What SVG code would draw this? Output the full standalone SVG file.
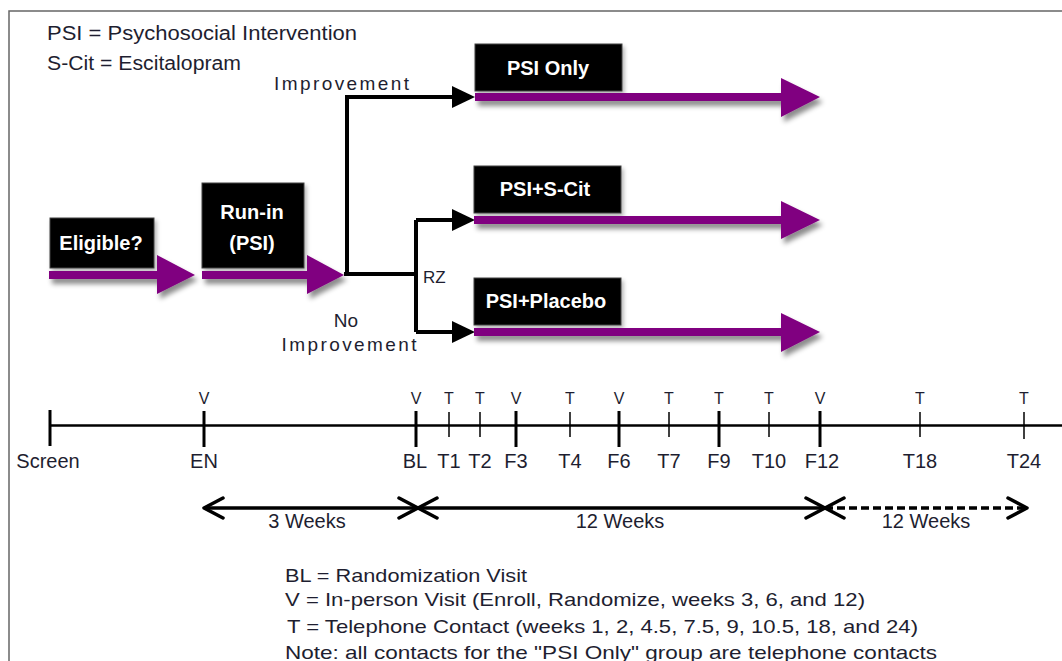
<svg xmlns="http://www.w3.org/2000/svg" width="1062" height="661" viewBox="0 0 1062 661">
<defs>
<filter id="sh" x="-10%" y="-30%" width="130%" height="180%">
<feDropShadow dx="3" dy="5" stdDeviation="2.5" flood-color="#000" flood-opacity="0.45"/>
</filter>
<filter id="shb" x="-10%" y="-20%" width="130%" height="150%">
<feDropShadow dx="2" dy="3" stdDeviation="2" flood-color="#000" flood-opacity="0.3"/>
</filter>
<style>
.t{font-family:"Liberation Sans",Arial,sans-serif;fill:#1e1e30}
.b{font-family:"Liberation Sans",Arial,sans-serif;font-weight:bold;fill:#fff;font-size:20px;text-anchor:middle}
.box{fill:#000;stroke:#444;stroke-width:1}
.pa{fill:#800080}
.k{stroke:#000;stroke-width:4;fill:none}
.ah{fill:#000}
.tl{stroke:#000;fill:none}
.ch{stroke:#000;stroke-width:3.5;fill:none;stroke-linecap:round;stroke-linejoin:round}
.lab{font-size:20px;text-anchor:middle}
.top{font-size:16px;text-anchor:middle}
</style>
</defs>
<rect width="1062" height="661" fill="#fff"/>
<rect x="9" y="11" width="1100" height="700" fill="none" stroke="#666" stroke-width="1.5"/>

<g id="legend">
<text class="t" x="47" y="40" font-size="20" textLength="310" lengthAdjust="spacingAndGlyphs">PSI = Psychosocial Intervention</text>
<text class="t" x="47" y="70" font-size="20" textLength="194" lengthAdjust="spacingAndGlyphs">S-Cit = Escitalopram</text>
</g>

<g id="connectors">
<path class="k" d="M344 274 H416 M347 274 V97 H455 M416 220 V332 M416 220 H455 M416 332 H455"/>
<polygon class="ah" points="452,86 475,97 452,108"/>
<polygon class="ah" points="452,209 475,220 452,231"/>
<polygon class="ah" points="452,321 475,332 452,343"/>
<text class="t" x="341.5" y="90" font-size="19" text-anchor="middle" textLength="135" lengthAdjust="spacing">Improvement</text>
<text class="t" x="346" y="327" font-size="19" text-anchor="middle">No</text>
<text class="t" x="349" y="351" font-size="19" text-anchor="middle" textLength="135" lengthAdjust="spacing">Improvement</text>
<text class="t" x="423" y="283" font-size="17">RZ</text>
</g>

<g id="eligible">
<rect class="box" x="50" y="218" width="104" height="50" filter="url(#shb)"/>
<text class="b" x="101" y="250">Eligible?</text>
<g filter="url(#sh)" class="pa"><rect x="49" y="271" width="110" height="8"/><polygon points="157,255 195,275 157,294"/></g>
</g>

<g id="runin">
<rect class="box" x="202" y="183" width="102" height="85" filter="url(#shb)"/>
<text class="b" x="252" y="219">Run-in</text>
<text class="b" x="252" y="250">(PSI)</text>
<g filter="url(#sh)" class="pa"><rect x="202" y="271" width="108" height="8"/><polygon points="307,255 344,275 307,294"/></g>
</g>

<g id="psionly">
<rect class="box" x="475" y="44" width="147" height="47" filter="url(#shb)"/>
<text class="b" x="548" y="75">PSI Only</text>
<g filter="url(#sh)" class="pa"><rect x="475" y="93" width="309" height="8"/><polygon points="781,78 820,97 781,117"/></g>
</g>

<g id="psiscit">
<rect class="box" x="474" y="166" width="147" height="47" filter="url(#shb)"/>
<text class="b" x="545" y="196">PSI+S-Cit</text>
<g filter="url(#sh)" class="pa"><rect x="474" y="216" width="310" height="8"/><polygon points="781,201 820,220 781,239"/></g>
</g>

<g id="psiplacebo">
<rect class="box" x="474" y="278" width="147" height="47" filter="url(#shb)"/>
<text class="b" x="546" y="308">PSI+Placebo</text>
<g filter="url(#sh)" class="pa"><rect x="474" y="328" width="310" height="8"/><polygon points="781,313 820,332 781,352"/></g>
</g>

<g id="timeline">
<line class="tl" x1="49" y1="425.5" x2="1062" y2="425.5" stroke-width="2.5"/>
<g class="tl" stroke-width="3">
<line x1="50" y1="410" x2="50" y2="446"/>
<line x1="204" y1="411" x2="204" y2="447"/>
<line x1="416" y1="411" x2="416" y2="447"/>
<line x1="516" y1="411" x2="516" y2="447"/>
<line x1="619" y1="411" x2="619" y2="447"/>
<line x1="719" y1="411" x2="719" y2="447"/>
<line x1="820" y1="411" x2="820" y2="447"/>
</g>
<g class="tl" stroke-width="1.5">
<line x1="449" y1="412" x2="449" y2="437"/>
<line x1="480" y1="412" x2="480" y2="437"/>
<line x1="570" y1="412" x2="570" y2="437"/>
<line x1="669" y1="412" x2="669" y2="437"/>
<line x1="769" y1="412" x2="769" y2="437"/>
<line x1="920" y1="412" x2="920" y2="437"/>
<line x1="1024" y1="412" x2="1024" y2="439"/>
</g>
<g class="t top">
<text x="204" y="404">V</text>
<text x="416" y="404">V</text>
<text x="449" y="404">T</text>
<text x="480" y="404">T</text>
<text x="516" y="404">V</text>
<text x="570" y="404">T</text>
<text x="619" y="404">V</text>
<text x="669" y="404">T</text>
<text x="719" y="404">T</text>
<text x="769" y="404">T</text>
<text x="820" y="404">V</text>
<text x="920" y="404">T</text>
<text x="1024" y="404">T</text>
</g>
<g class="t lab">
<text x="48" y="468">Screen</text>
<text x="204" y="468">EN</text>
<text x="415" y="468">BL</text>
<text x="449" y="468">T1</text>
<text x="480" y="468">T2</text>
<text x="516" y="468">F3</text>
<text x="570" y="468">T4</text>
<text x="619" y="468">F6</text>
<text x="669" y="468">T7</text>
<text x="719" y="468">F9</text>
<text x="769" y="468">T10</text>
<text x="822" y="468">F12</text>
<text x="920" y="468">T18</text>
<text x="1024" y="468">T24</text>
</g>
</g>

<g id="durations">
<line x1="204" y1="508" x2="418" y2="508" stroke="#000" stroke-width="3.5"/>
<line x1="418" y1="508" x2="825" y2="508" stroke="#000" stroke-width="3.5"/>
<line x1="825" y1="508" x2="1026" y2="508" stroke="#000" stroke-width="3.5" stroke-dasharray="8,4"/>
<polyline class="ch" points="223,498 204,508 223,518"/>
<polyline class="ch" points="399,498 418,508 399,518"/>
<polyline class="ch" points="437,498 418,508 437,518"/>
<polyline class="ch" points="806,498 825,508 806,518"/>
<polyline class="ch" points="844,498 825,508 844,518"/>
<polyline class="ch" points="1008,498 1027,508 1008,518"/>
<text class="t" x="307" y="528" font-size="20" text-anchor="middle">3 Weeks</text>
<text class="t" x="620" y="528" font-size="20" text-anchor="middle">12 Weeks</text>
<text class="t" x="926" y="528" font-size="20" text-anchor="middle">12 Weeks</text>
</g>

<g id="notes">
<text class="t" x="285" y="582" font-size="19" textLength="242" lengthAdjust="spacingAndGlyphs">BL = Randomization Visit</text>
<text class="t" x="285" y="606" font-size="19" textLength="580" lengthAdjust="spacingAndGlyphs">V = In-person Visit (Enroll, Randomize, weeks 3, 6, and 12)</text>
<text class="t" x="287" y="633" font-size="19" textLength="631" lengthAdjust="spacingAndGlyphs">T = Telephone Contact (weeks 1, 2, 4.5, 7.5, 9, 10.5, 18, and 24)</text>
<text class="t" x="285" y="659" font-size="19" textLength="652" lengthAdjust="spacingAndGlyphs">Note:  all contacts for the "PSI Only" group are telephone contacts</text>
</g>
</svg>
